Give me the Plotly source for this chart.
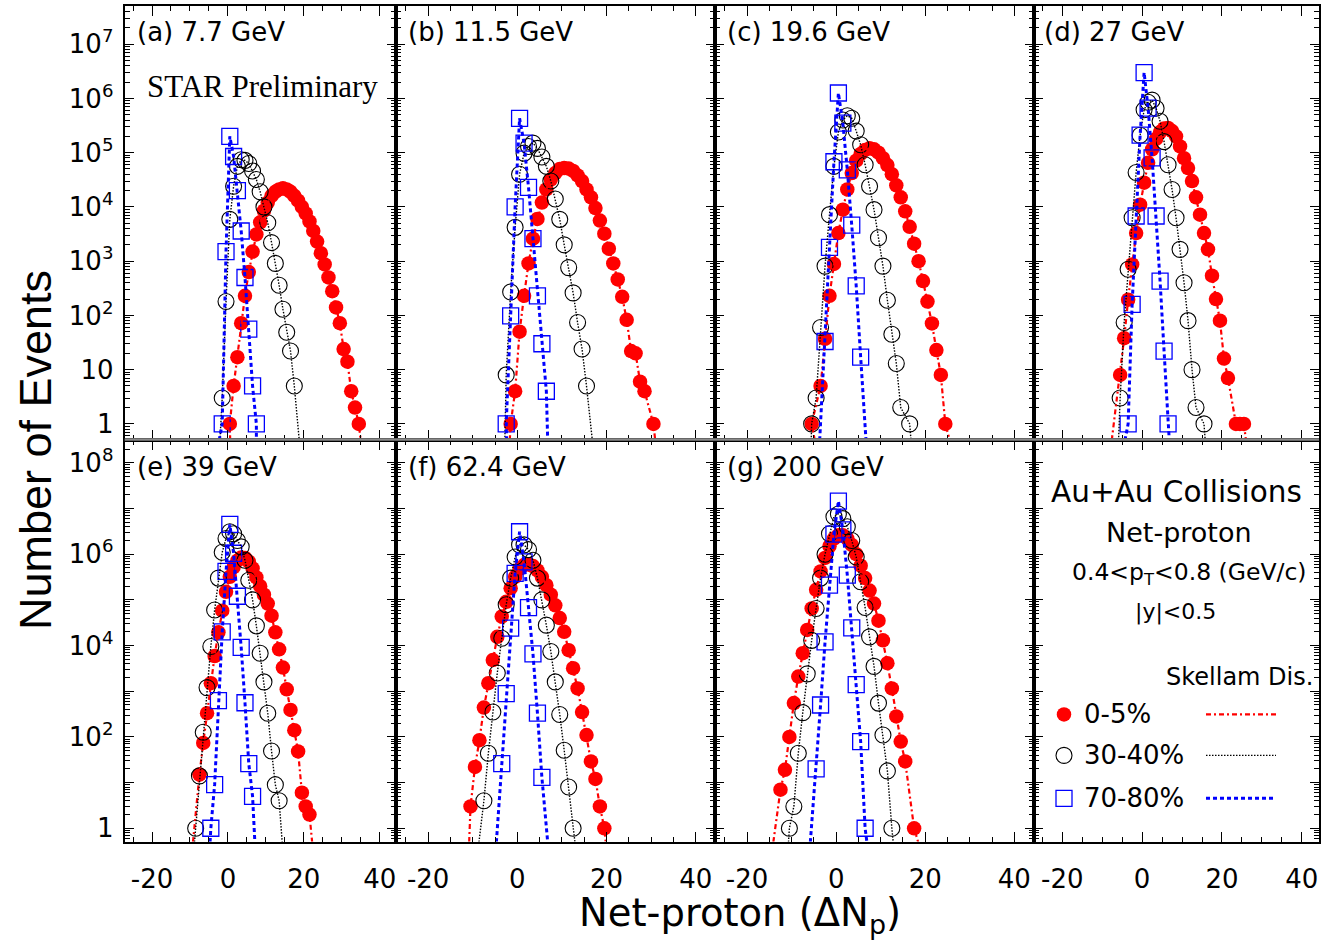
import plotly.graph_objects as go

# ---------------- data: x of first bin, then one count per unit step of net-proton ----------------
# (a) 7.7 GeV
a_red_x0 = 0.5
a_red = [1, 5, 17, 72, 230, 630, 1500, 3100, 5200, 8500, 12000, 16000, 19000, 21000, 22000,
         21000, 19000, 16000, 13000, 10000, 7600, 5400, 3600, 2300, 1400, 870, 500, 280, 140,
         72, 24, 14, 4, 2, 1]
a_blk_x0 = -1.5
a_blk = [3, 180, 5900, 24000, 56000, 74000, 72000, 63000, 46000, 32000, 19000, 10000, 5100,
         2200, 910, 360, 130, 49, 22, 5]
a_blu_x0 = -1.5
a_blu = [1, 1500, 200000, 85000, 20000, 3600, 500, 56, 5, 1]
a_skel_lo = [0.6, -2.1, -2.3]
a_skel_hi = [35.0, 18.8, 7.5]

# (b) 11.5 GeV
b_red_x0 = -1.5
b_red = [1, 4, 50, 230, 910, 2600, 6000, 12000, 21000, 32000, 42000, 50000, 52000, 51000,
         46000, 38000, 30000, 21000, 15000, 9500, 5600, 3200, 1700, 910, 460, 220, 83, 22, 20,
         6, 4, None, 1]
b_blk_x0 = -2.5
b_blk = [8, 270, 4200, 40000, 98000, 130000, 150000, 120000, 83000, 56000, 30000, 14000,
         5900, 2000, 760, 260, 74, 24, 5]
b_blu_x0 = -2.5
b_blu = [1, 98, 10000, 430000, 150000, 23000, 2600, 230, 30, 4]
b_skel_lo = [-1.7, -2.8, -2.4]
b_skel_hi = [30.9, 16.8, 6.8]

# (c) 19.6 GeV
c_red_x0 = -5.5
c_red = [1, None, 5, 37, 230, 890, 3300, 8900, 21000, 42000, 71000, 95000, 112000, 120000,
         115000, 100000, 79000, 59000, 40000, 25000, 15000, 8300, 4300, 2100, 1000, 430, 180,
         71, 23, 8, 1]
c_blk_x0 = -5.5
c_blk = [1, 3, 60, 810, 7200, 56000, 240000, 400000, 480000, 430000, 250000, 140000, 60000,
         24000, 8900, 2700, 810, 190, 45, 13, 2, None, 1]
c_blu_x0 = -2.5
c_blu = [33, 1800, 68000, 1260000, 350000, 48000, 4600, 350, 17]
c_skel_lo = [-4.8, -5.6, -3.7]
c_skel_hi = [25.5, 16.8, 6.7]

# (d) 27 GeV
d_red_x0 = -5.5
d_red = [8, 38, 195, 870, 3300, 11000, 28000, 65000, 115000, 180000, 240000, 280000, 285000,
         250000, 200000, 130000, 79000, 52000, 30000, 15000, 7200, 3300, 1650, 540, 200, 80,
         16, 7, None, 1, 1, 1]
d_blk_x0 = -5.5
d_blk = [3, 74, 710, 6300, 43000, 210000, 620000, 850000, 930000, 660000, 380000, 160000,
         60000, 21000, 6300, 1650, 400, 80, 10, 2, None, 1]
d_blu_x0 = -3.5
d_blu = [1, 160, 6800, 210000, 3000000, 660000, 80000, 6800, 430, 22, 1]
d_skel_lo = [-7.6, -5.9, -4.3]
d_skel_hi = [26.0, 15.8, 6.8]

# (e) 39 GeV
e_red_x0 = -7.5
e_red = [15, 74, 330, 1500, 5900, 19500, 58000, 150000, 320000, 520000, 720000, 850000, 830000,
         690000, 490000, 310000, 200000, 130000, 83000, 45000, 19500, 8300, 3300, 1100, 390,
         140, 48, 6, 3, 2]
e_blk_x0 = -8.5
e_blk = [1, 14, 126, 1200, 9500, 60000, 300000, 1100000, 2200000, 3100000, 2800000, 2000000,
         1450000, 740000, 270000, 100000, 27000, 6800, 1600, 330, 49, 9, 4]
e_blu_x0 = -4.5
e_blu = [1, 9, 620, 20000, 420000, 4500000, 1050000, 120000, 9100, 560, 26, 5]
e_skel_lo = [-9.2, -8.8, -4.7]
e_skel_hi = [22.2, 14.3, 7.1]

# (f) 62.4 GeV
f_red_x0 = -10.5
f_red = [3, 22, 85, 440, 1500, 4800, 15500, 43000, 91000, 180000, 320000, 480000, 580000,
         600000, 550000, 440000, 320000, 210000, 130000, 76000, 40000, 20000, 7900, 3200, 1150,
         350, 110, 29, 12, 3, 1]
f_blk_x0 = -7.5
f_blk = [4, 44, 350, 2500, 14500, 78000, 300000, 870000, 1600000, 1600000, 1260000, 740000,
         300000, 100000, 28000, 7400, 1600, 310, 51, 8, 1]
f_blu_x0 = -3.5
f_blu = [26, 890, 24000, 380000, 3100000, 680000, 68000, 6600, 330, 13]
f_skel_lo = [-10.8, -8.6, -4.7]
f_skel_hi = [19.8, 12.9, 6.8]

# (g) 200 GeV
g_red_x0 = -12.5
g_red = [7, 19, 100, 550, 2100, 6800, 22000, 65000, 166000, 420000, 830000, 1500000, 2200000,
         2600000, 2600000, 2200000, 1600000, 1000000, 560000, 300000, 160000, 83000, 35000,
         13000, 4100, 1150, 280, 79, 29, None, 1]
g_blk_x0 = -10.5
g_blk = [1, 3, 44, 340, 2400, 13000, 65000, 300000, 1000000, 2800000, 6600000, 7600000,
         6000000, 4000000, 2000000, 870000, 250000, 68000, 15500, 3500, 550, 110, 18, 1]
g_blu_x0 = -4.5
g_blu = [20, 500, 12000, 210000, 2750000, 14500000, 3400000, 350000, 24500, 1400, 79, 1]
g_skel_lo = [-14.1, -10.7, -5.8]
g_skel_hi = [18.4, 12.8, 6.9]

panel_labels = ["(a) 7.7 GeV", "(b) 11.5 GeV", "(c) 19.6 GeV", "(d) 27 GeV",
                "(e) 39 GeV", "(f) 62.4 GeV", "(g) 200 GeV"]
centralities = ["0-5%", "30-40%", "70-80%"]
x_tick_vals = [-20, 0, 20, 40]
x_tick_text = ["-20", "0", "20", "40"]

# ---------------- geometry (pixels) ----------------
W, H = 1321, 940
COL = [(124.7, 396.0), (396.0, 715.0), (715.0, 1033.5), (1033.5, 1319.0)]
ROW = [(6.0, 440.5), (440.5, 843.3)]
XR = [-27.2, 44.3]
YR = [[-0.289, 7.704], [-0.29, 8.51]]
SANS = "DejaVu Sans"


def px2x(col, px):
    c0, c1 = COL[col]
    return XR[0] + (px - c0) / (c1 - c0) * (XR[1] - XR[0])


def py2y(row, py):
    r0, r1 = ROW[row]
    lg = YR[row][1] - (py - r0) / (r1 - r0) * (YR[row][1] - YR[row][0])
    return 10 ** lg


MK = [dict(symbol="circle", size=14.5, color="#ff0000", line=dict(width=0)),
      dict(symbol="circle-open", size=16, color="black", line=dict(width=1.1)),
      dict(symbol="square-open", size=16, color="#0000ff", line=dict(width=1.3))]
LN = [dict(color="#ff0000", width=2.2, dash="5px,3px,2px,3px"),
      dict(color="black", width=1.4, dash="1.5px,1.5px"),
      dict(color="#0000ff", width=3, dash="4px,3px")]

panels = [
    (0, 0, [(a_red_x0, a_red), (a_blk_x0, a_blk), (a_blu_x0, a_blu)], a_skel_lo, a_skel_hi),
    (0, 1, [(b_red_x0, b_red), (b_blk_x0, b_blk), (b_blu_x0, b_blu)], b_skel_lo, b_skel_hi),
    (0, 2, [(c_red_x0, c_red), (c_blk_x0, c_blk), (c_blu_x0, c_blu)], c_skel_lo, c_skel_hi),
    (0, 3, [(d_red_x0, d_red), (d_blk_x0, d_blk), (d_blu_x0, d_blu)], d_skel_lo, d_skel_hi),
    (1, 0, [(e_red_x0, e_red), (e_blk_x0, e_blk), (e_blu_x0, e_blu)], e_skel_lo, e_skel_hi),
    (1, 1, [(f_red_x0, f_red), (f_blk_x0, f_blk), (f_blu_x0, f_blu)], f_skel_lo, f_skel_hi),
    (1, 2, [(g_red_x0, g_red), (g_blk_x0, g_blk), (g_blu_x0, g_blu)], g_skel_lo, g_skel_hi),
]

fig = go.Figure()
layout = dict(width=W, height=H, margin=dict(l=0, r=0, t=0, b=0),
              paper_bgcolor="white", plot_bgcolor="white", showlegend=False)

minor_y = [k * 10 ** n for n in range(-1, 9) for k in range(2, 10)]


def axis_common():
    return dict(showline=True, linecolor="black", linewidth=2, mirror="allticks",
                ticks="inside", tickwidth=1, tickcolor="black", showgrid=False,
                zeroline=False, tickfont=dict(family=SANS, size=26, color="black"))


all_panels = [(r, c) for r, c, *_ in panels] + [(1, 3)]
for i, (r, c) in enumerate(all_panels):
    n = "" if i == 0 else str(i + 1)
    xa = axis_common()
    xa.update(domain=[COL[c][0] / W, COL[c][1] / W], range=XR, anchor="y" + n,
              tickmode="array", tickvals=x_tick_vals, ticktext=x_tick_text, ticklen=10,
              showticklabels=(r == 1), ticklabelstandoff=13,
              minor=dict(ticks="inside", ticklen=5, tickwidth=1, tickcolor="black",
                         tickmode="linear", tick0=0, dtick=5, showgrid=False))
    ya = axis_common()
    if r == 0:
        yv = [10 ** k for k in range(0, 8)]
        yt = ["1", "10"] + ["10<sup>%d</sup>" % k for k in range(2, 8)]
    else:
        yv = [10 ** k for k in range(0, 9)]
        yt = ["1" if k == 0 else ("10<sup>%d</sup>" % k if k % 2 == 0 else "") for k in range(0, 9)]
    ya.update(type="log", domain=[1 - ROW[r][1] / H, 1 - ROW[r][0] / H], range=YR[r],
              anchor="x" + n, tickmode="array", tickvals=yv, ticktext=yt, ticklen=9,
              showticklabels=(c == 0), ticklabelstandoff=4,
              minor=dict(ticks="inside", ticklen=5, tickwidth=1, tickcolor="black",
                         tickmode="array", tickvals=minor_y, showgrid=False))
    layout["xaxis" + n] = xa
    layout["yaxis" + n] = ya

for i, (r, c, series, lo, hi) in enumerate(panels):
    n = "" if i == 0 else str(i + 1)
    for k, (x0, vals) in enumerate(series):
        xs = [x0 + j for j, v in enumerate(vals) if v is not None]
        ys = [v for v in vals if v is not None]
        fig.add_trace(go.Scatter(x=xs, y=ys, mode="markers", marker=MK[k],
                                 xaxis="x" + n, yaxis="y" + n, hoverinfo="skip"))
    for k, (x0, vals) in enumerate(series):
        xs = [x0 + j for j, v in enumerate(vals) if v is not None]
        ys = [v for v in vals if v is not None]
        fig.add_trace(go.Scatter(x=[lo[k]] + xs + [hi[k]], y=[0.5] + ys + [0.5],
                                 mode="lines", line=LN[k], xaxis="x" + n, yaxis="y" + n,
                                 hoverinfo="skip"))

# legend glyphs drawn inside panel (h)
leg_y = [716, 757, 800]
for k in range(3):
    yv = py2y(1, leg_y[k])
    fig.add_trace(go.Scatter(x=[px2x(3, 1064)], y=[yv], mode="markers", marker=MK[k],
                             xaxis="x8", yaxis="y8", hoverinfo="skip"))
    fig.add_trace(go.Scatter(x=[px2x(3, 1206), px2x(3, 1276)], y=[yv, yv], mode="lines",
                             line=LN[k], xaxis="x8", yaxis="y8", hoverinfo="skip"))

ann = []


def text(px, py, s, size, xanchor="left", family=SANS, angle=0):
    ann.append(dict(x=px / W, y=1 - py / H, xref="paper", yref="paper", text=s,
                    showarrow=False, xanchor=xanchor, yanchor="middle", textangle=angle,
                    font=dict(family=family, size=size, color="black")))


lab_pos = [(135, 32), (406, 32), (725, 32), (1042, 32), (135, 468), (406, 468), (725, 468)]
for (px, py), s in zip(lab_pos, panel_labels):
    text(px, py, s, 26)
text(145, 87, "STAR Preliminary", 31, family="Liberation Serif")
text(1176, 493, "Au+Au Collisions", 29.5, xanchor="center")
text(1179, 534, "Net-proton", 27, xanchor="center")
text(1070, 575, "0.4&lt;p<sub>T</sub>&lt;0.8 (GeV/c)", 23.5)
text(1175, 613, "|y|&lt;0.5", 22, xanchor="center")
text(1315, 678, "Skellam Dis.", 24, xanchor="right")
for k in range(3):
    text(1082, leg_y[k], centralities[k], 26)
text(35, 451, "Number of Events", 45, xanchor="center", family="Liberation Sans", angle=-90)
text(740, 917, "Net-proton (ΔN<sub>p</sub>)", 38.5, xanchor="center")
layout["annotations"] = ann

# grey seam between the two rows of panels
layout["shapes"] = [dict(type="line", xref="paper", yref="paper",
                         x0=COL[0][0] / W, x1=COL[3][1] / W,
                         y0=1 - ROW[0][1] / H, y1=1 - ROW[0][1] / H,
                         line=dict(color="#8a8a8a", width=2.5))]

fig.update_layout(**layout)
fig.write_html("out.html")
